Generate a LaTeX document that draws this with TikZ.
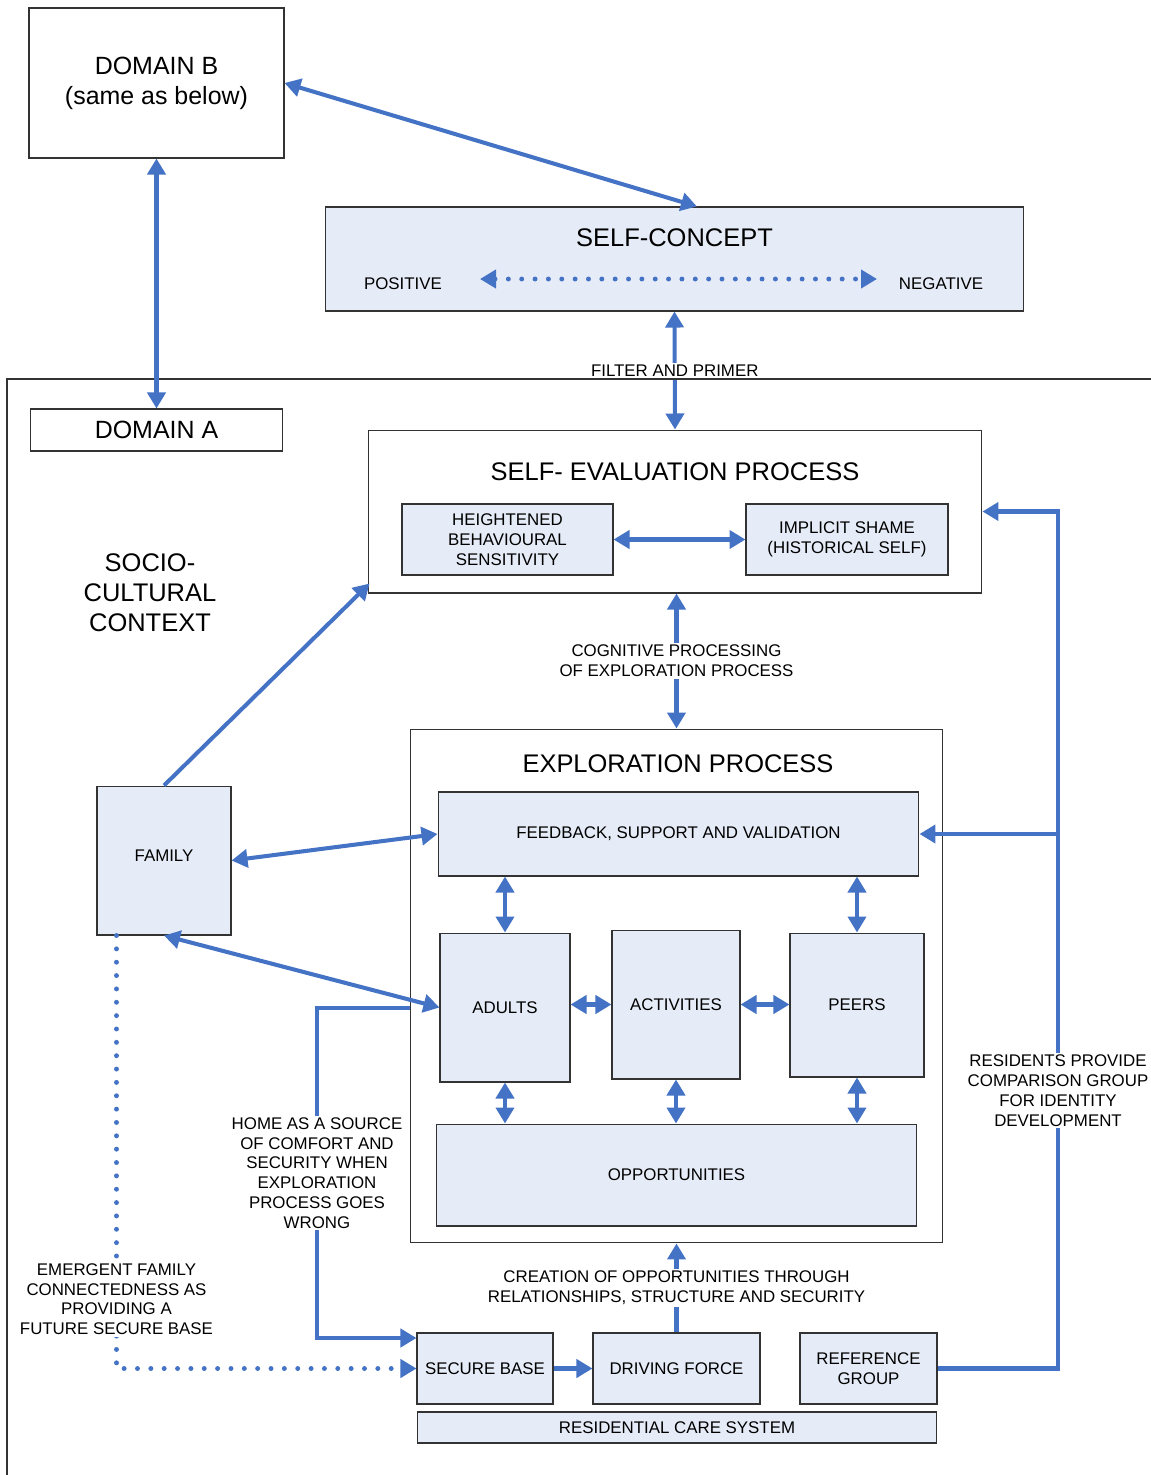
\documentclass[tikz,border=0pt]{standalone}
\usepackage{fontspec}
\setmainfont{Liberation Sans}
\usetikzlibrary{arrows.meta}
\usetikzlibrary{calc}
\usetikzlibrary{positioning}
\definecolor{linkblue}{RGB}{68,114,196}
\definecolor{boxfill}{RGB}{230,236,247}
\newcommand{\smallfnt}{\fontsize{9.6}{11.3}\selectfont}
\newcommand{\bigfnt}{\fontsize{14.5}{17}\selectfont}
\newcommand{\domfnt}{\fontsize{14.2}{17}\selectfont}
\tikzstyle{block} = [draw=black!80, fill=boxfill, rectangle, line width=0.6pt,
    inner sep=0pt, align=center, font=\smallfnt]
\tikzstyle{plain} = [draw=black!80, fill=white, rectangle, line width=0.6pt,
    inner sep=0pt, align=center]
\tikzstyle{link} = [draw=linkblue, line width=2.3pt]
\tikzstyle{dotlink} = [link, line width=2.8pt, line cap=round, dash pattern=on 0pt off 7.6pt]
\tikzstyle{linelabel} = [fill=white, inner sep=1pt, align=center, font=\smallfnt]
\tikzstyle{heading} = [inner sep=0pt, align=center, font=\bigfnt]

\begin{document}
\begin{tikzpicture}[x=0.02cm, y=-0.02cm, >={Triangle[length=0.32cm,width=0.36cm]}]

    \useasboundingbox (0,0) rectangle (1151,1475);

    \node[plain, font=\domfnt, minimum width=5.1cm, minimum height=3cm] at (156.5,83) (domainb) {DOMAIN B\\(same as below)};

    \node[block, minimum width=13.98cm, minimum height=2.08cm] at (674.5,259) (selfconcept) {};
    \node[heading] at (674.5,238) (selfconcepttitle) {SELF-CONCEPT};
    \node[font=\smallfnt, inner sep=0pt] at (403,284) (positive) {POSITIVE};
    \node[font=\smallfnt, inner sep=0pt] at (941,284) (negative) {NEGATIVE};
    \coordinate (dotleft) at (480,279);
    \coordinate (dotright) at (877,279);
    \draw[dotlink, <->] (dotleft) -- (dotright);

    \node[plain, minimum width=12.28cm, minimum height=3.26cm] at (675,511.5) (selfeval) {};
    \node[heading] at (675,472) (selfevaltitle) {SELF- EVALUATION PROCESS};
    \node[block, minimum width=4.22cm, minimum height=1.42cm] at (507.5,539.5) (heightened) {HEIGHTENED\\BEHAVIOURAL\\SENSITIVITY};
    \node[block, minimum width=4.04cm, minimum height=1.42cm] at (847,539.5) (shame) {IMPLICIT SHAME\\(HISTORICAL SELF)};
    \draw[link, <->] (heightened) -- (shame);

    \draw[link, <->] (selfconcept.south) -- node[linelabel] {FILTER AND PRIMER} (selfeval.north);
    \draw[draw=black!80, line width=0.6pt] (1151,379) -- (7,379) -- (7,1475);

    \node[plain, font=\domfnt, minimum width=5.04cm, minimum height=0.84cm] at (156.5,430) (domaina) {DOMAIN A};
    \node[heading] at (150,593) (socio) {SOCIO-\\CULTURAL\\CONTEXT};

    \node[plain, minimum width=10.66cm, minimum height=10.28cm] at (676.5,986) (explore) {};
    \node[heading] at (678,764) (exploretitle) {EXPLORATION PROCESS};
    \node[block, minimum width=9.62cm, minimum height=1.68cm] at (678.5,834) (feedback) {FEEDBACK, SUPPORT AND VALIDATION};
    \node[block, minimum width=2.6cm, minimum height=2.98cm] at (505,1007.5) (adults) {ADULTS};
    \node[block, minimum width=2.56cm, minimum height=2.98cm] at (676,1004.5) (activities) {ACTIVITIES};
    \node[block, minimum width=2.68cm, minimum height=2.88cm] at (857,1005) (peers) {PEERS};
    \node[block, minimum width=9.62cm, minimum height=2.04cm] at (676.5,1175) (opportunities) {OPPORTUNITIES};

    \node[block, minimum width=2.68cm, minimum height=2.98cm] at (164,860.5) (family) {\raisebox{5.7pt}{FAMILY}};

    \node[block, minimum width=2.72cm, minimum height=1.42cm] at (485,1368.5) (securebase) {SECURE BASE};
    \node[block, minimum width=3.34cm, minimum height=1.42cm] at (676.5,1368.5) (drivingforce) {DRIVING FORCE};
    \node[block, minimum width=2.74cm, minimum height=1.42cm] at (868.5,1368.5) (refgroup) {REFERENCE\\GROUP};
    \node[block, minimum width=10.4cm, minimum height=0.62cm] at (677,1427.5) (caresystem) {RESIDENTIAL CARE SYSTEM};

    \draw[link, <->] (domainb.south) -- (domaina.north);
    \draw[link, <->] (domainb.east) -- ($(selfconcept.north)+(22.5,0)$);
    \draw[link, <->] (selfeval.south -| explore.north) -- node[linelabel] {COGNITIVE PROCESSING\\OF EXPLORATION PROCESS} (explore.north);
    \draw[link, ->] (family.north) -- ($(selfeval.south west)+(2,-10)$);
    \draw[link, <->] (family.east) -- (feedback.west);
    \draw[link, <->] (family.south) -- (adults.west);

    \draw[link, <->] (adults.north) -- (adults.north |- feedback.south);
    \draw[link, <->] (peers.north) -- (peers.north |- feedback.south);
    \draw[link, <->] (adults.east |- activities.west) -- (activities.west);
    \draw[link, <->] (activities.east) -- (peers.west |- activities.east);
    \draw[link, <->] (adults.south) -- (adults.south |- opportunities.north);
    \draw[link, <->] (activities.south) -- (activities.south |- opportunities.north);
    \draw[link, <->] (peers.south) -- (peers.south |- opportunities.north);

    \coordinate (homestart) at ($(explore.west)+(0,22)$);
    \coordinate (homecorner) at (317,1008);
    \draw[link, ->] (homestart) -- (homecorner) |- node[linelabel, pos=0.25] {HOME AS A SOURCE\\OF COMFORT AND\\SECURITY WHEN\\EXPLORATION\\PROCESS GOES\\WRONG} ($(securebase.west)+(0,-30.5)$);

    \coordinate (familyfoot) at ($(family.south west)+(20,0)$);
    \draw[dotlink, ->] (familyfoot) |- node[linelabel, pos=0.42] {EMERGENT FAMILY\\CONNECTEDNESS AS\\PROVIDING A\\FUTURE SECURE BASE} (securebase.west);

    \draw[link, ->] (securebase.east) -- (drivingforce.west);
    \draw[link, ->] (drivingforce.north) -- node[linelabel] {CREATION OF OPPORTUNITIES THROUGH\\RELATIONSHIPS, STRUCTURE AND SECURITY} (explore.south);

    \coordinate (refcorner) at (1058,1368.5);
    \coordinate (evalcorner) at (1058,511.5);
    \coordinate (branch) at (1058,834);
    \draw[link, ->] (refgroup.east) -- (refcorner) -- node[linelabel, pos=0.324] {RESIDENTS PROVIDE\\COMPARISON GROUP\\FOR IDENTITY\\DEVELOPMENT} (evalcorner) -- (selfeval.east);
    \draw[link, ->] (branch) -- (feedback.east);
\end{tikzpicture}
\end{document}
